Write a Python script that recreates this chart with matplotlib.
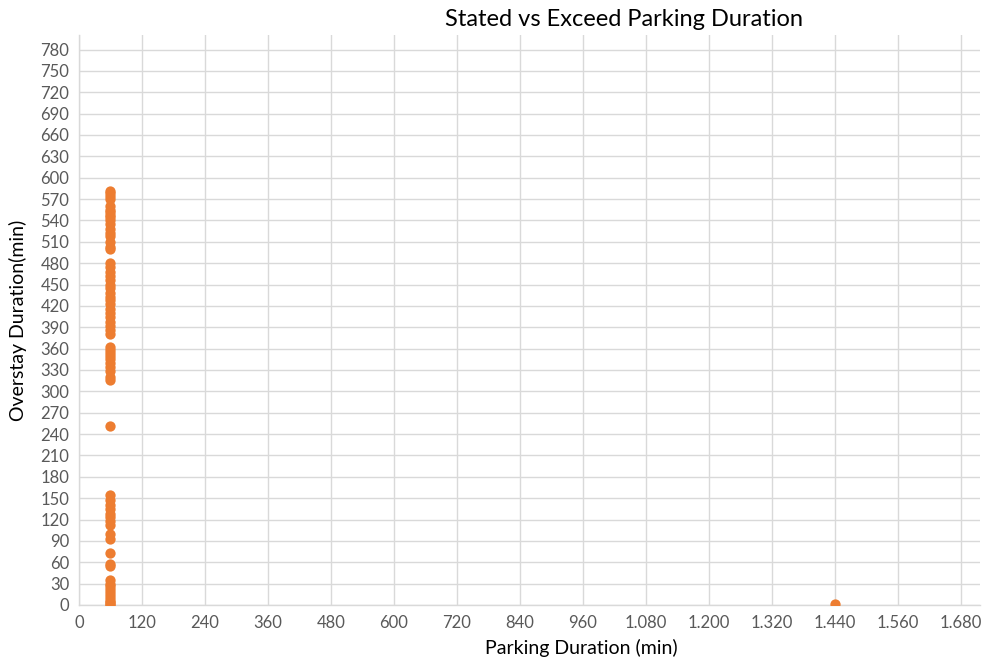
import matplotlib
matplotlib.use("Agg")
import matplotlib.pyplot as plt
from matplotlib.ticker import FuncFormatter

plt.rcParams['font.family'] = ['Lato', 'DejaVu Sans']

stated_a = [60] * 62
overstay_a = [582, 578, 574, 570, 560, 555, 552, 548, 545, 540, 535, 528, 522, 518, 510, 503, 500,
              480, 474, 468, 462, 456, 450, 445, 438, 432, 428, 422, 416, 410, 404, 398, 392, 386, 380,
              362, 358, 354, 350, 346, 340, 334, 328, 320, 316,
              252,
              154, 148, 140, 135, 128, 124, 118, 112,
              100, 92, 73, 58, 55,
              35, 30, 26]
stated_b = [60] * 8 + [1440]
overstay_b = [22, 18, 14, 10, 6, 2, 0, 4, 2]

stated = stated_a + stated_b
overstay = overstay_a + overstay_b

x_ticks = list(range(0, 1681, 120))
y_ticks = list(range(0, 781, 30))

fig = plt.figure(figsize=(9.86, 6.64), dpi=100)
ax = fig.add_axes([0.0801, 0.0889, 0.9138, 0.858])
ax.scatter(stated, overstay, s=55, color='#ED7D31', zorder=3, linewidths=0)

ax.set_xlim(0, 1716)
ax.set_ylim(0, 800)
ax.set_xticks(x_ticks)
ax.set_yticks(y_ticks)
fmt = FuncFormatter(lambda v, p: f"{int(v):,}".replace(",", "."))
ax.xaxis.set_major_formatter(fmt)
ax.yaxis.set_major_formatter(fmt)

ax.grid(True, color='#D9D9D9', linewidth=1)
ax.set_axisbelow(True)
for s in ['top', 'right']:
    ax.spines[s].set_visible(False)
for s in ['left', 'bottom']:
    ax.spines[s].set_color('#D9D9D9')
    ax.spines[s].set_linewidth(1)
ax.tick_params(length=0, labelsize=12, labelcolor='#595959', pad=7)

fig.text(624 / 986, 1 - 20 / 664, 'Stated vs Exceed Parking Duration', fontsize=17,
         color='#000000', ha='center', va='center')
fig.text(581 / 986, 1 - 648 / 664, 'Parking Duration (min)', fontsize=14,
         color='#000000', ha='center', va='center')
fig.text(18 / 986, 1 - 320 / 664, 'Overstay Duration(min)', fontsize=14,
         color='#000000', ha='center', va='center', rotation=90)

fig.savefig('out.png', dpi=100)
